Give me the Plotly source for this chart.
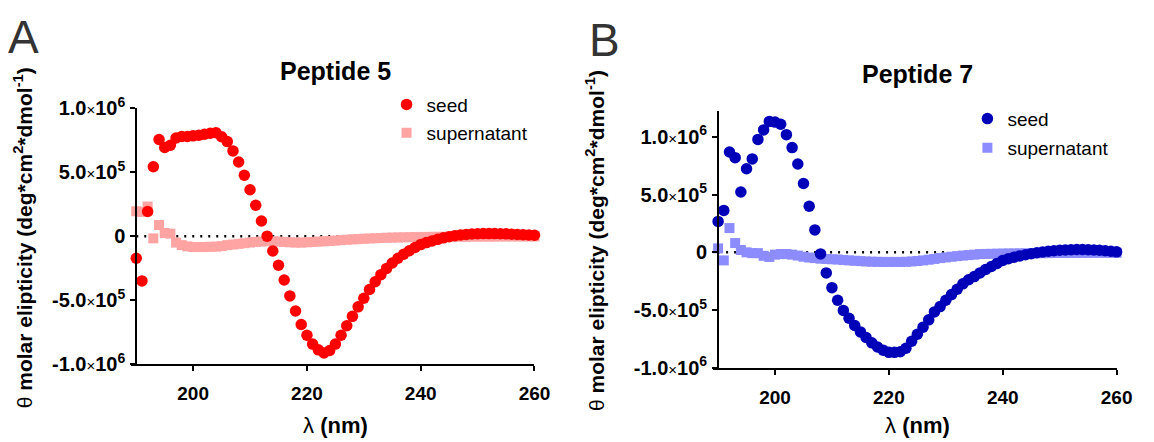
import plotly.graph_objects as go

W, H = 1154, 442

wavelength = list(range(190, 261))

seed_p5 = [
    -0.173, -0.35, 0.193, 0.543, 0.756, 0.694, 0.711, 0.768, 0.78, 0.78,
    0.785, 0.79, 0.797, 0.805, 0.81, 0.778, 0.74, 0.667, 0.58, 0.477,
    0.363, 0.242, 0.119, 0.0, -0.116, -0.227, -0.343, -0.467, -0.585, -0.691,
    -0.775, -0.844, -0.889, -0.914, -0.894, -0.844, -0.775, -0.701, -0.627, -0.553,
    -0.486, -0.417, -0.356, -0.301, -0.252, -0.21, -0.173, -0.141, -0.114, -0.089,
    -0.066, -0.05, -0.037, -0.025, -0.013, -0.004, 0.004, 0.01, 0.014, 0.017,
    0.019, 0.02, 0.02, 0.02, 0.019, 0.018, 0.016, 0.014, 0.012, 0.01, 0.007,
]
sup_p5 = [
    0.195, 0.19, 0.232, -0.017, 0.087, 0.025, 0.02, -0.05, -0.07, -0.08,
    -0.085, -0.085, -0.085, -0.083, -0.082, -0.078, -0.07, -0.065, -0.06, -0.055,
    -0.05, -0.045, -0.042, -0.04, -0.04, -0.042, -0.045, -0.048, -0.05, -0.05,
    -0.048, -0.045, -0.042, -0.04, -0.037, -0.034, -0.031, -0.028, -0.025, -0.023,
    -0.02, -0.018, -0.016, -0.014, -0.012, -0.011, -0.01, -0.009, -0.008, -0.007,
    -0.006, -0.006, -0.005, -0.005, -0.005, -0.004, -0.004, -0.004, -0.004, -0.003,
    -0.003, -0.003, -0.003, -0.003, -0.002, -0.002, -0.002, -0.002, -0.002, -0.002, -0.002,
]
seed_p7 = [
    0.268, 0.363, 0.869, 0.82, 0.522, 0.724, 0.809, 0.978, 1.06, 1.134,
    1.128, 1.109, 1.019, 0.907, 0.765, 0.596, 0.399, 0.194, -0.014, -0.178,
    -0.306, -0.415, -0.503, -0.571, -0.634, -0.689, -0.738, -0.784, -0.82, -0.847,
    -0.866, -0.866, -0.861, -0.831, -0.77, -0.71, -0.648, -0.585, -0.516, -0.47,
    -0.415, -0.366, -0.32, -0.273, -0.238, -0.21, -0.178, -0.148, -0.123, -0.096,
    -0.07, -0.055, -0.042, -0.031, -0.021, -0.012, -0.004, 0.003, 0.009, 0.014,
    0.018, 0.021, 0.023, 0.024, 0.024, 0.023, 0.021, 0.018, 0.014, 0.009, 0.004,
]
sup_p7 = [
    0.034, -0.07, 0.21, 0.08, 0.02, 0.0, -0.007, -0.007, -0.03, -0.04,
    -0.02, -0.015, -0.015, -0.02, -0.028, -0.038, -0.045, -0.05, -0.055, -0.058,
    -0.06, -0.062, -0.066, -0.07, -0.073, -0.076, -0.079, -0.081, -0.082, -0.083,
    -0.083, -0.083, -0.083, -0.082, -0.079, -0.075, -0.07, -0.064, -0.057, -0.05,
    -0.044, -0.038, -0.033, -0.028, -0.024, -0.02, -0.015, -0.014, -0.013, -0.012,
    -0.011, -0.01, -0.01, -0.009, -0.009, -0.008, -0.008, -0.007, -0.007, -0.006,
    -0.006, -0.006, -0.005, -0.005, -0.005, -0.005, -0.004, -0.004, -0.004, -0.004, -0.004,
]
scale = 1e6

x_ticks = [200, 220, 240, 260]
y_ticks = [-1e6, -5e5, 0, 5e5, 1e6]
X = "<span style='font-size:15px;font-weight:normal'>×</span>"
y_ticktext = [
    "-1.0" + X + "10<sup>6</sup>",
    "-5.0" + X + "10<sup>5</sup>",
    "0",
    "5.0" + X + "10<sup>5</sup>",
    "1.0" + X + "10<sup>6</sup>",
]
baseline_x = [190, 230]

RED = "#ff0000"
PINK = "#ffa3a3"
BLUE = "#0000b8"
LBLUE = "#8c8cff"
FONT = "Liberation Sans, Arial, sans-serif"

fig = go.Figure()

def add_panel(xa, ya, seed, sup, c_seed, c_sup, lg1, lg2):
    fig.add_trace(go.Scatter(
        x=wavelength, y=[v * scale for v in sup], mode="markers", name="supernatant",
        marker=dict(symbol="square", size=10, color=c_sup),
        xaxis=xa, yaxis=ya, legend=lg2, cliponaxis=False))
    fig.add_trace(go.Scatter(
        x=wavelength, y=[v * scale for v in seed], mode="markers", name="seed",
        marker=dict(symbol="circle", size=11.5, color=c_seed),
        xaxis=xa, yaxis=ya, legend=lg1, cliponaxis=False))

add_panel("x", "y", seed_p5, sup_p5, RED, PINK, "legend", "legend2")
add_panel("x2", "y2", seed_p7, sup_p7, BLUE, LBLUE, "legend3", "legend4")

axis_common = dict(
    showline=True, linecolor="black", linewidth=2,
    ticks="outside", ticklen=5, tickwidth=2, tickcolor="black",
    showgrid=False, zeroline=False,
)
xfont = dict(family=FONT, size=19, color="black", weight="bold")
yfont = dict(family=FONT, size=20, color="black", weight="bold")

L0, L1 = 132.7 / W, 542.0 / W
R0, R1 = 722.7 / W, 1132.3 / W
xr = [189.05, 260]

def xpos(lo, hi, v):
    return lo + (hi - lo) * (v - xr[0]) / (xr[1] - xr[0])

fig.update_layout(
    width=W, height=H, margin=dict(l=0, r=0, t=0, b=0),
    paper_bgcolor="white", plot_bgcolor="white",
    xaxis=dict(domain=[L0, L1], range=xr, tickvals=x_ticks, anchor="y", tickfont=xfont,
               ticklabelstandoff=6, **axis_common),
    yaxis=dict(domain=[1 - 371 / H, 1 - 100 / H], range=[-1e6, 1e6], tickvals=y_ticks,
               ticktext=y_ticktext, anchor="free", position=xpos(L0, L1, 190), tickfont=yfont,
               ticklabelstandoff=1, **axis_common),
    xaxis2=dict(domain=[R0, R1], range=xr, tickvals=x_ticks, anchor="y2", tickfont=xfont,
                ticklabelstandoff=6, **axis_common),
    yaxis2=dict(domain=[1 - 375 / H, 1 - 103.3 / H], range=[-1e6, 1.22e6], tickvals=y_ticks,
                ticktext=y_ticktext, anchor="free", position=xpos(R0, R1, 190), tickfont=yfont,
                ticklabelstandoff=1, **axis_common),
    showlegend=True,
)

leg_common = dict(font=dict(family=FONT, size=19, color="black"), bgcolor="rgba(0,0,0,0)",
                  xanchor="left", yanchor="middle", itemwidth=30, borderwidth=0)
fig.update_layout(
    legend=dict(x=(408 - 16) / W, y=1 - 96 / H, **leg_common),
    legend2=dict(x=(408 - 16) / W, y=1 - 126 / H, **leg_common),
    legend3=dict(x=(997 - 16) / W, y=1 - 111 / H, **leg_common),
    legend4=dict(x=(997 - 16) / W, y=1 - 142 / H, **leg_common),
)

for xa, ya in (("x", "y"), ("x2", "y2")):
    fig.add_shape(type="line", xref=xa, yref=ya, x0=baseline_x[0], x1=baseline_x[1], y0=0, y1=0,
                  line=dict(color="black", width=2.5, dash="2px,6px"), layer="below")

ytitle = "θ <b>molar elipticity (deg*cm<sup>2</sup>*dmol<sup>-1</sup>)</b>"
xtitle = "λ <b>(nm)</b>"
ann = [
    dict(text="A", x=6 / W, y=1 - 24 / H, xanchor="left", yanchor="middle", font=dict(size=46, color="#333333")),
    dict(text="B", x=595 / W, y=1 - 28 / H, xanchor="left", yanchor="middle", font=dict(size=46, color="#333333")),
    dict(text="<b>Peptide 5</b>", x=340 / W, y=1 - 60 / H, xanchor="center", yanchor="middle", font=dict(size=25, color="black")),
    dict(text="<b>Peptide 7</b>", x=930 / W, y=1 - 64 / H, xanchor="center", yanchor="middle", font=dict(size=25, color="black")),
    dict(text=ytitle, x=23 / W, y=1 - 237 / H, textangle=-90, xanchor="center", yanchor="middle", font=dict(size=21, color="black")),
    dict(text=ytitle, x=604 / W, y=1 - 240 / H, textangle=-90, xanchor="center", yanchor="middle", font=dict(size=21, color="black")),
    dict(text=xtitle, x=340 / W, y=1 - 436 / H, xanchor="center", yanchor="middle", font=dict(size=22, color="black")),
    dict(text=xtitle, x=930 / W, y=1 - 436 / H, xanchor="center", yanchor="middle", font=dict(size=22, color="black")),
]
for a in ann:
    a.update(xref="paper", yref="paper", showarrow=False)
    a["font"]["family"] = FONT
fig.update_layout(annotations=ann)

fig.write_html("out.html")
